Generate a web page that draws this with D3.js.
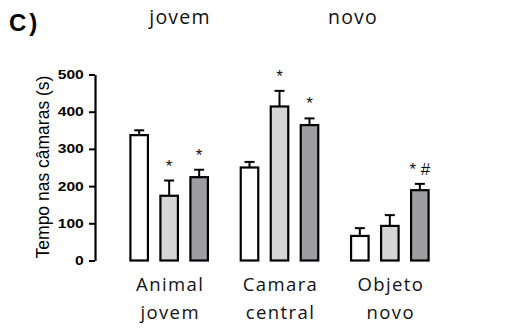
<!DOCTYPE html>
<html>
<head>
<meta charset="utf-8">
<script src="https://cdn.jsdelivr.net/npm/d3@7"></script>
<style>
  html, body { margin: 0; padding: 0; background: #fff; }
  svg { display: block; }
</style>
</head>
<body>
<svg id="chart" width="517" height="329"></svg>
<script>
// Groups (x categories), two-line labels
const groups = ["Animal jovem", "Camara central", "Objeto novo"];
const groupLines = [["Animal", "jovem"], ["Camara", "central"], ["Objeto", "novo"]];
// Three conditions per group
const series = ["s1", "s2", "s3"];
const seriesFill = ["#ffffff", "#d5d5d5", "#9e9da2"];
// Means (s) per group, per condition
const means = [
  [337, 174, 224],
  [250, 414, 364],
  [66, 93, 189]
];
// Standard errors (upper bars only)
const sems = [
  [13, 41, 20],
  [15, 42, 18],
  [21, 29, 17]
];
// Significance marks above each bar
const marks = [
  ["", "*", "*"],
  ["", "*", "*"],
  ["", "", "* #"]
];
const yTicks = [0, 100, 200, 300, 400, 500];
const headerWords = ["jovem", "novo"];

const svg = d3.select("#chart");

const y = d3.scaleLinear().domain([0, 500]).range([260.5, 74.5]);
const x = d3.scaleBand().domain(groups).range([114, 445]).padding(0);
const xi = d3.scalePoint().domain(series).range([-30, 30]);
const barW = 17.5;

// Panel letter and header words
svg.append("text")
  .attr("x", 9).attr("y", 31)
  .attr("font-family", "Liberation Sans, Arial, sans-serif")
  .attr("font-weight", "bold")
  .attr("font-size", 24)
  .attr("letter-spacing", 3)
  .text("C)");

svg.selectAll("text.head")
  .data(headerWords)
  .join("text")
  .attr("class", "head")
  .attr("x", (d, i) => [180, 353][i])
  .attr("y", 24)
  .attr("text-anchor", "middle")
  .attr("font-family", "Open Sans, sans-serif")
  .attr("font-size", 19.5)
  .attr("letter-spacing", 1.2)
  .attr("fill", "#111")
  .text(d => d);

// Y axis
const yAxis = d3.axisLeft(y).tickValues(yTicks).tickSize(6).tickSizeOuter(0).tickPadding(3);
const gy = svg.append("g").attr("transform", "translate(95,0)").call(yAxis);
gy.select(".domain").attr("stroke", "#000").attr("stroke-width", 2.2);
gy.selectAll(".tick line").attr("stroke", "#000").attr("stroke-width", 2);
gy.selectAll(".tick text")
  .attr("font-family", "Liberation Sans, Arial, sans-serif")
  .attr("font-weight", "bold")
  .attr("font-size", 12.5)
  .attr("fill", "#000")
  .attr("transform", "scale(1.25,1)");

// Y axis title
svg.append("text")
  .attr("transform", "translate(48.5,167) rotate(-90)")
  .attr("text-anchor", "middle")
  .attr("font-family", "Liberation Sans, Arial, sans-serif")
  .attr("font-size", 17.5)
  .attr("fill", "#000")
  .text("Tempo nas câmaras (s)");

// Flatten data into bar records
const bars = [];
groups.forEach((g, gi) => {
  series.forEach((s, si) => {
    bars.push({ g, s, si, v: means[gi][si], e: sems[gi][si], m: marks[gi][si] });
  });
});

const cx = d => x(d.g) + x.bandwidth() / 2 + xi(d.s);

// Error bars (upper only)
const eb = svg.append("g").attr("stroke", "#000").attr("stroke-width", 2).attr("fill", "none");
eb.selectAll("line.v").data(bars).join("line")
  .attr("x1", cx).attr("x2", cx)
  .attr("y1", d => y(d.v)).attr("y2", d => y(d.v + d.e));
eb.selectAll("line.c").data(bars).join("line")
  .attr("x1", d => cx(d) - 5).attr("x2", d => cx(d) + 5)
  .attr("y1", d => y(d.v + d.e)).attr("y2", d => y(d.v + d.e));

// Bars
svg.append("g").selectAll("rect").data(bars).join("rect")
  .attr("x", d => cx(d) - barW / 2)
  .attr("width", barW)
  .attr("y", d => y(d.v))
  .attr("height", d => y(0) - y(d.v))
  .attr("fill", d => seriesFill[d.si])
  .attr("stroke", "#000")
  .attr("stroke-width", 2.2);

// Significance marks
svg.append("g").selectAll("text").data(bars.filter(d => d.m)).join("text")
  .attr("x", cx)
  .attr("y", d => y(d.v + d.e) - 9)
  .attr("text-anchor", "middle")
  .attr("font-family", "Liberation Sans, Arial, sans-serif")
  .attr("font-size", 17)
  .attr("fill", "#111")
  .text(d => d.m);

// Group labels
const gl = svg.append("g").selectAll("text").data(groups).join("text")
  .attr("text-anchor", "middle")
  .attr("font-family", "Open Sans, sans-serif")
  .attr("font-size", 18.5)
  .attr("letter-spacing", 1.4)
  .attr("fill", "#111");
gl.each(function (g, i) {
  const t = d3.select(this);
  const cxg = x(g) + x.bandwidth() / 2 + 1;
  groupLines[i].forEach((line, li) => {
    t.append("tspan").attr("x", cxg).attr("y", 291 + li * 28).text(line);
  });
});
</script>
</body>
</html>
